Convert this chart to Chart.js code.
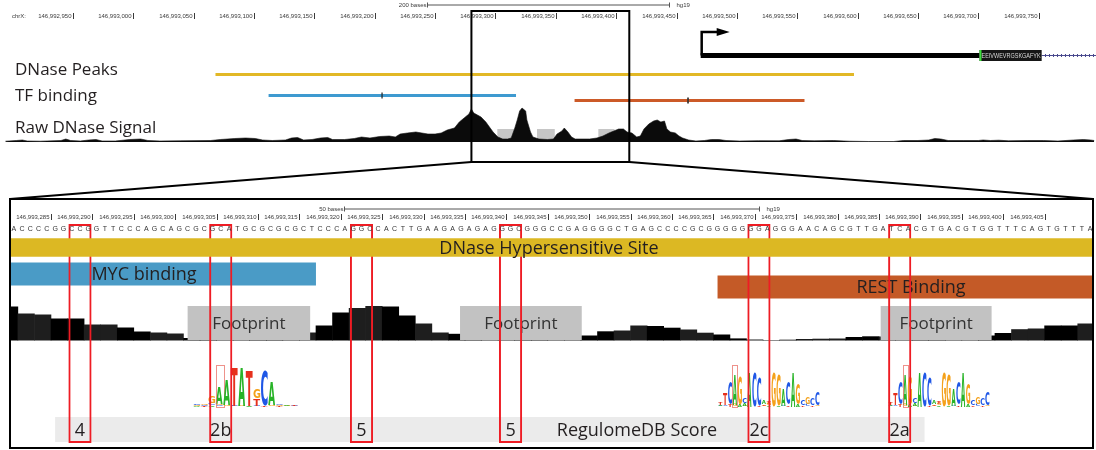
<!DOCTYPE html>
<html>
<head>
<meta charset="utf-8">
<title>DNase footprints and RegulomeDB scores, chrX</title>
<script src="https://cdn.jsdelivr.net/npm/chart.js@4.4.1/dist/chart.umd.min.js"></script>
<style>
  html, body { margin: 0; padding: 0; background: #fff; overflow: hidden; }
  canvas { display: block; }
</style>
</head>
<body>
<canvas id="browser" width="1096" height="450"></canvas>
<script>
// ---------------- data ----------------
const chromName = 'chrX:';
const assembly = 'hg19';

// ruler ticks (genomic coordinates)
const overviewTicks = [146992950, 146993000, 146993050, 146993100, 146993150, 146993200,
  146993250, 146993300, 146993350, 146993400, 146993450, 146993500, 146993550,
  146993600, 146993650, 146993700, 146993750];
const zoomTicks = [146993285, 146993290, 146993295, 146993300, 146993305, 146993310,
  146993315, 146993320, 146993325, 146993330, 146993335, 146993340, 146993345,
  146993350, 146993355, 146993360, 146993365, 146993370, 146993375, 146993380,
  146993385, 146993390, 146993395, 146993400, 146993405];

// features
const dnasePeak = [146993068, 146993597];
const mycPeak = [146993112, 146993317];
const mycSummit = 146993206;
const restPeak = [146993365.5, 146993556];
const restSummit = 146993459.5;
const footprints = [[146993301.5, 146993316.3], [146993334.4, 146993349.1], [146993385.2, 146993398.6]];

// raw DNase signal, overview
const overviewSignalPos = [
  146992894, 146992903, 146992908, 146992912, 146992923, 146992940, 146992944, 146992948,
  146992956, 146992963, 146992969, 146992974, 146992985, 146992997, 146993006, 146993012,
  146993022, 146993039, 146993064, 146993072, 146993084, 146993093, 146993101, 146993107,
  146993115, 146993126, 146993131, 146993136, 146993141, 146993148, 146993155, 146993161,
  146993165, 146993175, 146993183, 146993189, 146993196, 146993204, 146993212, 146993217,
  146993221, 146993227, 146993234, 146993239, 146993244, 146993250, 146993255, 146993260,
  146993266, 146993270, 146993274, 146993278, 146993280, 146993282, 146993285, 146993288,
  146993292, 146993295, 146993298, 146993302, 146993306, 146993310, 146993313, 146993316,
  146993318, 146993320, 146993322, 146993325, 146993326, 146993329, 146993331, 146993336,
  146993343, 146993348, 146993351, 146993355, 146993357, 146993360, 146993363, 146993366,
  146993378, 146993384, 146993389, 146993394, 146993398, 146993402, 146993406, 146993409,
  146993413, 146993417, 146993420, 146993423, 146993427, 146993431, 146993434, 146993437,
  146993440, 146993442, 146993445, 146993449, 146993452, 146993455, 146993460, 146993466,
  146993473, 146993479, 146993485, 146993491, 146993502, 146993518, 146993535, 146993543,
  146993549, 146993554, 146993564, 146993580, 146993593, 146993609, 146993630, 146993638,
  146993650, 146993659, 146993664, 146993669, 146993675, 146993688, 146993700, 146993704,
  146993710, 146993717, 146993725, 146993741, 146993754, 146993766, 146993779, 146993787,
  146993793, 146993796];
const overviewSignalVal = [
  0.8, 1.5, 2, 1, 0.8, 1.5, 3, 1.5,
  1, 2, 2.5, 1, 1, 2.5, 3, 1.5,
  1, 1.2, 1.5, 2.5, 3.5, 4, 3.5, 2,
  1.5, 2, 4, 4.5, 2, 2.5, 4, 4.5,
  2.5, 2.5, 3.5, 5, 4, 5.5, 6, 5,
  8, 9, 10, 9, 8, 8, 9, 12,
  14, 20, 24, 28, 33, 29, 27, 25,
  20, 15, 10, 5, 3, 3, 4, 14,
  22, 31, 34, 31, 22, 10, 5, 3,
  2.5, 3, 8, 11, 14, 10, 5, 3,
  3, 4, 6, 9, 11, 13, 13, 10,
  9, 5, 6, 13, 18, 21, 22, 20,
  21, 13, 10, 9, 6, 4, 2, 1,
  1.5, 2.5, 2.5, 1.5, 1, 1.3, 1.2, 2.5,
  3, 1.5, 1.2, 1.5, 0.8, 0.5, 0.5, 1.5,
  1.5, 2, 3.5, 3, 1.5, 1.5, 1.5, 2,
  1.5, 1.8, 1.2, 1.5, 1.5, 1, 2, 2.5,
  2, 1.5];

// raw DNase signal, zoomed window (2-bp bins)
const zoomSignalStart = 146993277;
const zoomSignalBin = 2;
const zoomSignalVal = [
  34, 34, 27, 26, 22, 22, 16, 16, 13, 9,
  8, 7, 2.5, 3, 3, 3, 3, 3, 4, 8,
  15, 28, 32.5, 34.5, 34, 25, 17, 8, 6.7, 4,
  3, 3, 3, 3, 3, 4, 5, 9.2, 10, 15,
  14.5, 12.8, 11, 7.8, 6, 2.1, 1, 0.5, 0.8, 1.4,
  1.8, 2, 3.5, 4.2, 4, 4, 4, 4, 4, 4,
  5, 7.5, 11.3, 12, 15, 15, 17, 17];

// reference sequence of the zoomed window
const zoomSequenceStart = 146993281;
const zoomSequence =
  'ACCCCGGCCGGTTCCCAGCAGCGCGCATGCGCGCGCTCCCAGGC' +
  'CACTTGAAGAGAGAGGGCGGGCCGAGGGGCTGAGCCCCGCGGGGG' +
  'GGAGGGAACAGCGTTGATCACGTGACGTGGTTTCAGTGTTTA';

// gene model (first exon)
const geneTss = 146993470;
const geneUtrEnd = 146993701;
const geneCdsEnd = 146993752.5;
const geneIntronEnd = 146993900;
const geneAminoAcids = 'EEIVWEVRGSKGAFYK';

// scored variants and their RegulomeDB categories
const variantSpans = [[146993288, 146993290], [146993305, 146993307], [146993322, 146993324],
  [146993340, 146993342], [146993370, 146993372], [146993387, 146993389]];
const regulomeScores = ['4', '2b', '5', '5', '2c', '2a'];
const scoreTrack = [146993285.5, 146993390.5];

// motif logos (information content per column, bits)
const mycMotif = [
  { C: 0.06, G: 0.05, A: 0.04 }, { G: 0.07, C: 0.05, T: 0.03 }, { G: 0.35, C: 0.12, A: 0.05 },
  { A: 0.85, G: 0.08, C: 0.05 }, { A: 1.25, G: 0.08 }, { T: 1.9, C: 0.04 },
  { A: 1.9, G: 0.04 }, { T: 1.8, A: 0.05 }, { G: 0.5, T: 0.35, C: 0.05 },
  { C: 1.75, T: 0.05 }, { A: 1.15, G: 0.06 }, { C: 0.07, G: 0.05, T: 0.04 },
  { A: 0.06, G: 0.05 }, { C: 0.05, T: 0.05 }];
const restMotif = [
  { T: 0.1, C: 0.05, A: 0.05 }, { T: 0.6, C: 0.08 }, { C: 1.15, T: 0.1 },
  { A: 1.5, G: 0.1 }, { G: 1.4, A: 0.1 }, { C: 0.25, A: 0.1, G: 0.05 },
  { A: 1.7 }, { C: 1.7 }, { C: 1.4, T: 0.05 },
  { A: 0.2, T: 0.08, G: 0.05 }, { T: 0.15, G: 0.1, A: 0.05 }, { G: 1.7 },
  { G: 1.55, A: 0.05 }, { A: 0.85, C: 0.05 }, { C: 1.15, T: 0.08 },
  { A: 1.7 }, { G: 1.0, A: 0.1 }, { C: 0.25, T: 0.08 },
  { G: 0.3, C: 0.1 }, { C: 0.3, T: 0.08 }, { C: 0.65, G: 0.05 }];
const motifSites = [
  { factor: 'MYC', columns: mycMotif, start: 146993302.15, mark: 3 },
  { factor: 'REST', columns: restMotif, start: 146993365.55, mark: 3 },
  { factor: 'REST', columns: restMotif, start: 146993386.1, mark: 3 }];

// ---------------- layout & style ----------------
const L = {
  W: 1096, H: 450,
  top: { anchor: 146993300, anchorPx: 495.5, pxPerBase: 1.207 },
  zoom: { anchor: 146993285, anchorPx: 51, pxPerBase: 8.28 },
  scaleBarTopY: 5, rulerTopY: 16,
  geneY: 55.5, geneUtrH: 5, geneCdsH: 11, arrowY: 32,
  peakRowY: 74.5, mycRowY: 95.5, restRowY: 100.5, featureH: 3, summitH: 6,
  topFootprintY: 135.5, topFootprintH: 13,
  topSignalBase: 142,
  boxTop: 11, boxBottom: 162,
  frame: { left: 10, right: 1093, top: 199, bottom: 448 },
  zoomScaleBarY: 209, zoomRulerY: 217, seqY: 229.5,
  dhsY: 247.5, dhsH: 18.5,
  mycBarY: 274, restBarY: 287, tfBarH: 23,
  footprintY: 323, footprintH: 34,
  zoomSignalBase: 340.5,
  logoBase: 406.5, pxPerBit: 20, logoStep: { MYC: 0.906, REST: 0.585 }, markBits: 2.1,
  scoreY: 429.5, scoreH: 25,
  variantTop: 224, variantBottom: 443,
  labelX: { dhs: 549, myc: 144, rest: 911, regulome: 637 },
  trackLabelX: 15, trackLabelY: { peaks: 75, tf: 101, raw: 133 }
};
const C = {
  ink: '#231f20', ruler: '#3a3a3a',
  yellow: '#e2b826', dhs: '#dcb823', blue: '#3e9ad0', myc: '#4a9bc6',
  orange: '#cc5a28', rest: '#c45a27', footprint: '#c2c2c2', topFootprint: '#c6c6c6',
  red: '#ee1c24', band: '#ebebeb', intron: '#4a4a8e',
  logo: { A: '#27b327', C: '#1f57e6', G: '#f4a11b', T: '#e6301c' }
};
const LABEL_FONT = '"Open Sans", "Noto Sans", sans-serif';
const TINY_FONT = '"Liberation Sans", Arial, sans-serif';

// ---------------- helpers ----------------
function genomeAxis(g) {
  return { type: 'linear', axis: 'x', position: 'bottom', display: false, offset: false,
    min: g.anchor - g.anchorPx / g.pxPerBase, max: g.anchor + (L.W - g.anchorPx) / g.pxPerBase };
}
function bandAxis(baselinePx, pxPerUnit) {
  return { type: 'linear', axis: 'y', position: 'left', display: false, offset: false,
    min: (baselinePx - L.H) / pxPerUnit, max: baselinePx / pxPerUnit };
}
const zoomClip = { left: -L.frame.left, top: 0, right: -(L.W - L.frame.right), bottom: 0 };

function spanBars(label, spans, axis, row, thickness, color, order, extra) {
  return Object.assign({
    type: 'bar', label, indexAxis: 'y', xAxisID: axis, yAxisID: 'yRows',
    data: spans.map(s => ({ x: [s[0], s[1]], y: row })),
    backgroundColor: color, borderWidth: 0, barThickness: thickness,
    grouped: false, order, inflateAmount: 0
  }, extra || {});
}

function drawText(ctx, str, x, y, font, color, align, baseline) {
  ctx.save();
  ctx.font = font;
  ctx.fillStyle = color;
  ctx.textAlign = align || 'left';
  ctx.textBaseline = baseline || 'alphabetic';
  ctx.fillText(str, x, y);
  ctx.restore();
}

function drawRuler(ctx, scale, ticks, y) {
  ctx.save();
  ctx.font = '6px ' + TINY_FONT;
  ctx.fillStyle = C.ruler;
  ctx.strokeStyle = C.ruler;
  ctx.lineWidth = 1;
  ctx.textAlign = 'right';
  ctx.textBaseline = 'middle';
  for (const t of ticks) {
    const x = Math.round(scale.getPixelForValue(t)) + 0.5;
    ctx.fillText(t.toLocaleString('en-US'), x - 2, y);
    ctx.beginPath();
    ctx.moveTo(x, y - 3);
    ctx.lineTo(x, y + 3);
    ctx.stroke();
  }
  ctx.restore();
}

function drawScaleBar(ctx, scale, bases, centerX, y) {
  const len = scale.getPixelForValue(scale.min + bases) - scale.getPixelForValue(scale.min);
  const x0 = Math.round(centerX - len / 2) + 0.5, x1 = Math.round(centerX + len / 2) + 0.5;
  ctx.save();
  ctx.strokeStyle = '#555';
  ctx.lineWidth = 1;
  ctx.beginPath();
  ctx.moveTo(x0, y); ctx.lineTo(x1, y);
  ctx.moveTo(x0, y - 2.5); ctx.lineTo(x0, y + 2.5);
  ctx.moveTo(x1, y - 2.5); ctx.lineTo(x1, y + 2.5);
  ctx.stroke();
  ctx.restore();
  drawText(ctx, bases + ' bases', x0 - 1, y, '6px ' + TINY_FONT, C.ruler, 'right', 'middle');
  drawText(ctx, assembly, x1 + 7, y, '6px ' + TINY_FONT, C.ruler, 'left', 'middle');
}

function drawLogoLetter(ctx, ch, x, w, yBottom, h) {
  if (h < 0.4) return;
  ctx.save();
  ctx.font = 'bold 60px "DejaVu Sans"';
  const m = ctx.measureText(ch);
  const gw = m.actualBoundingBoxLeft + m.actualBoundingBoxRight;
  const gh = m.actualBoundingBoxAscent + m.actualBoundingBoxDescent;
  ctx.translate(x, yBottom - h);
  ctx.scale(w / gw, h / gh);
  ctx.fillStyle = C.logo[ch];
  ctx.textAlign = 'left';
  ctx.textBaseline = 'alphabetic';
  ctx.fillText(ch, m.actualBoundingBoxLeft, m.actualBoundingBoxAscent);
  ctx.restore();
}

function drawLogos(chart) {
  const ctx = chart.ctx, xs = chart.scales.xBot, ys = chart.scales.yLogo;
  const base = ys.getPixelForValue(0);
  for (const site of motifSites) {
    const step = L.logoStep[site.factor];
    site.columns.forEach((col, i) => {
      const x0 = xs.getPixelForValue(site.start + i * step);
      const x1 = xs.getPixelForValue(site.start + (i + 1) * step);
      const letters = Object.keys(col).sort((a, b) => col[a] - col[b]);
      let y = base;
      for (const ch of letters) {
        const h = base - ys.getPixelForValue(col[ch]);
        drawLogoLetter(ctx, ch, x0 + 0.3, x1 - x0 - 0.6, y, h);
        y -= h;
      }
      if (i === site.mark) {
        ctx.save();
        ctx.strokeStyle = 'rgba(232,110,100,0.75)';
        ctx.lineWidth = 1;
        const top = ys.getPixelForValue(L.markBits);
        ctx.strokeRect(Math.round(x0) + 0.5, Math.round(top) + 0.5, Math.round(x1 - x0), Math.round(base - top));
        ctx.restore();
      }
    });
  }
}

// labels drawn right after their own dataset
const decorators = {
  'Zoom footprints': chart => {
    const xs = chart.scales.xBot;
    for (const f of footprints) {
      const cx = (xs.getPixelForValue(f[0]) + xs.getPixelForValue(f[1])) / 2;
      drawText(chart.ctx, 'Footprint', cx, L.footprintY + 1, '17px ' + LABEL_FONT, '#333', 'center', 'middle');
    }
  },
  'MYC binding': chart => drawText(chart.ctx, 'MYC binding', L.labelX.myc, L.mycBarY + 1, '18px ' + LABEL_FONT, C.ink, 'center', 'middle'),
  'REST Binding': chart => drawText(chart.ctx, 'REST Binding', L.labelX.rest, L.restBarY + 1, '18px ' + LABEL_FONT, C.ink, 'center', 'middle'),
  'RegulomeDB Score': chart => {
    const ctx = chart.ctx, xs = chart.scales.xBot;
    drawLogos(chart);
    variantSpans.forEach((s, i) => {
      const cx = (xs.getPixelForValue(s[0] - 1) + xs.getPixelForValue(s[1])) / 2;
      drawText(ctx, regulomeScores[i], cx, L.scoreY + 1, '18px ' + LABEL_FONT, C.ink, 'center', 'middle');
    });
    drawText(ctx, 'RegulomeDB Score', L.labelX.regulome, L.scoreY + 1, '18px ' + LABEL_FONT, C.ink, 'center', 'middle');
  },
  'DNase Hypersensitive Site': chart => drawText(chart.ctx, 'DNase Hypersensitive Site', L.labelX.dhs, L.dhsY + 1, '18px ' + LABEL_FONT, C.ink, 'center', 'middle')
};

const browserPlugin = {
  id: 'browserTracks',
  afterDatasetDraw(chart, args) {
    const ds = chart.data.datasets[args.index];
    if (decorators[ds.label]) decorators[ds.label](chart);
  },
  afterDatasetsDraw(chart) {
    const ctx = chart.ctx;
    const xt = chart.scales.xTop, xb = chart.scales.xBot;

    // overview ruler
    drawScaleBar(ctx, xt, 200, L.W / 2, L.scaleBarTopY);
    drawRuler(ctx, xt, overviewTicks, L.rulerTopY);
    drawText(ctx, chromName, 12, L.rulerTopY, '6px ' + TINY_FONT, C.ruler, 'left', 'middle');

    // gene: TSS arrow, coding start, amino acids, intron chevrons
    const tss = xt.getPixelForValue(geneTss);
    ctx.save();
    ctx.strokeStyle = '#000';
    ctx.fillStyle = '#000';
    ctx.lineWidth = 2.5;
    ctx.beginPath();
    ctx.moveTo(tss + 1, L.geneY);
    ctx.lineTo(tss + 1, L.arrowY);
    ctx.lineTo(tss + 17, L.arrowY);
    ctx.stroke();
    ctx.beginPath();
    ctx.moveTo(tss + 16, L.arrowY - 4);
    ctx.lineTo(tss + 29, L.arrowY);
    ctx.lineTo(tss + 16, L.arrowY + 4);
    ctx.closePath();
    ctx.fill();
    const c0 = xt.getPixelForValue(geneUtrEnd), c1 = xt.getPixelForValue(geneCdsEnd);
    ctx.fillStyle = '#3ee03e';
    ctx.fillRect(c0, L.geneY - L.geneCdsH / 2, 2, L.geneCdsH);
    ctx.font = '8px ' + TINY_FONT;
    ctx.fillStyle = '#d8d8d8';
    ctx.textBaseline = 'middle';
    ctx.textAlign = 'left';
    ctx.fillText(geneAminoAcids, c0 + 2, L.geneY + 0.5, c1 - c0 - 3);
    ctx.strokeStyle = C.intron;
    ctx.lineWidth = 1;
    ctx.beginPath();
    for (let x = c1 + 3; x < L.W; x += 4) {
      ctx.moveTo(Math.round(x) + 0.5, L.geneY - 1.5);
      ctx.lineTo(Math.round(x) + 0.5, L.geneY + 1.5);
    }
    ctx.stroke();
    ctx.restore();

    // track names
    const nameFont = '17px ' + LABEL_FONT;
    drawText(ctx, 'DNase Peaks', L.trackLabelX, L.trackLabelY.peaks, nameFont, C.ink);
    drawText(ctx, 'TF binding', L.trackLabelX, L.trackLabelY.tf, nameFont, C.ink);
    drawText(ctx, 'Raw DNase Signal', L.trackLabelX, L.trackLabelY.raw, nameFont, C.ink);

    // zoom window outline and connectors
    const vL = xb.getValueForPixel(L.frame.left), vR = xb.getValueForPixel(L.frame.right);
    const bl = xt.getPixelForValue(vL), br = xt.getPixelForValue(vR);
    ctx.save();
    ctx.strokeStyle = '#000';
    ctx.lineWidth = 2;
    ctx.strokeRect(bl, L.boxTop, br - bl, L.boxBottom - L.boxTop);
    ctx.beginPath();
    ctx.moveTo(bl, L.boxBottom); ctx.lineTo(L.frame.left, L.frame.top);
    ctx.moveTo(br, L.boxBottom); ctx.lineTo(L.frame.right, L.frame.top);
    ctx.stroke();
    ctx.strokeRect(L.frame.left, L.frame.top, L.frame.right - L.frame.left, L.frame.bottom - L.frame.top);
    ctx.restore();

    // zoom ruler and sequence
    drawScaleBar(ctx, xb, 50, (L.frame.left + L.frame.right) / 2, L.zoomScaleBarY);
    drawRuler(ctx, xb, zoomTicks, L.zoomRulerY);
    ctx.save();
    ctx.font = '7px ' + TINY_FONT;
    ctx.fillStyle = '#333';
    ctx.textAlign = 'center';
    ctx.textBaseline = 'middle';
    for (let i = 0; i < zoomSequence.length; i++) {
      const x = xb.getPixelForValue(zoomSequenceStart + i - 0.5);
      if (x > L.frame.left && x < L.W) ctx.fillText(zoomSequence[i], x, L.seqY);
    }
    ctx.restore();
  }
};

// ---------------- chart ----------------
function build() {
  const datasets = [
    // overview
    spanBars('Overview footprints', footprints, 'xTop', L.topFootprintY, L.topFootprintH, C.topFootprint, 95),
    {
      type: 'line', label: 'Raw DNase signal', xAxisID: 'xTop', yAxisID: 'ySigTop',
      data: overviewSignalPos.map((p, i) => ({ x: p, y: overviewSignalVal[i] })),
      borderColor: '#111', borderWidth: 0.6, backgroundColor: '#0b0b0b',
      fill: 'origin', pointRadius: 0, tension: 0, order: 90
    },
    spanBars('DNase peaks', [dnasePeak], 'xTop', L.peakRowY, L.featureH, C.yellow, 85),
    spanBars('MYC peak', [mycPeak], 'xTop', L.mycRowY, L.featureH, C.blue, 85),
    spanBars('REST peak', [restPeak], 'xTop', L.restRowY, L.featureH, C.orange, 85),
    spanBars('Summits', [[mycSummit - 0.5, mycSummit + 0.5]], 'xTop', L.mycRowY, L.summitH, '#222', 84),
    spanBars('Summits REST', [[restSummit - 0.7, restSummit + 0.7]], 'xTop', L.restRowY, L.summitH, '#333', 84),
    spanBars('Gene UTR', [[geneTss, geneUtrEnd]], 'xTop', L.geneY, L.geneUtrH, '#000', 85),
    spanBars('Gene CDS', [[geneUtrEnd, geneCdsEnd]], 'xTop', L.geneY, L.geneCdsH, '#161616', 85),
    spanBars('Gene intron', [[geneCdsEnd, geneIntronEnd]], 'xTop', L.geneY, 1, C.intron, 86),

    // zoomed window
    {
      type: 'bar', label: 'Zoom signal', xAxisID: 'xBot', yAxisID: 'ySigBot',
      data: zoomSignalVal.map((v, i) => ({ x: zoomSignalStart + (i + 0.5) * zoomSignalBin, y: v })),
      backgroundColor: zoomSignalVal.map((v, i) => (Math.floor(i / 2) % 2 ? '#1e1e1e' : '#000')),
      borderWidth: 0, barThickness: zoomSignalBin * L.zoom.pxPerBase + 0.6,
      grouped: false, inflateAmount: 0, order: 60, clip: zoomClip
    },
    spanBars('Zoom footprints', footprints, 'xBot', L.footprintY, L.footprintH, C.footprint, 50, { clip: zoomClip }),
    spanBars('MYC binding', [mycPeak], 'xBot', L.mycBarY, L.tfBarH, C.myc, 42, { clip: zoomClip }),
    spanBars('REST Binding', [restPeak], 'xBot', L.restBarY, L.tfBarH, C.rest, 40, { clip: zoomClip }),
    spanBars('RegulomeDB Score', [scoreTrack], 'xBot', L.scoreY, L.scoreH, C.band, 30, { clip: zoomClip }),
    spanBars('Variants', variantSpans.map(s => [s[0] - 0.9, s[1] - 0.1]), 'xBot',
      (L.variantTop + L.variantBottom) / 2, L.variantBottom - L.variantTop, 'rgba(0,0,0,0)', 20,
      { borderColor: C.red, borderWidth: 2, borderSkipped: false, clip: zoomClip }),
    spanBars('DNase Hypersensitive Site', [dnasePeak], 'xBot', L.dhsY, L.dhsH, C.dhs, 10, { clip: zoomClip })
  ];

  new Chart(document.getElementById('browser'), {
    type: 'bar',
    data: { datasets },
    options: {
      responsive: false,
      animation: false,
      devicePixelRatio: 1,
      events: [],
      layout: { padding: 0 },
      plugins: { legend: { display: false }, tooltip: { enabled: false }, title: { display: false } },
      scales: {
        xTop: genomeAxis(L.top),
        xBot: genomeAxis(L.zoom),
        yRows: { type: 'linear', axis: 'y', position: 'left', display: false, offset: false,
          min: 0, max: L.H, reverse: true },
        ySigTop: bandAxis(L.topSignalBase, 1),
        ySigBot: bandAxis(L.zoomSignalBase, 1),
        yLogo: bandAxis(L.logoBase, L.pxPerBit)
      }
    },
    plugins: [browserPlugin]
  });
}

const fontLoads = document.fonts
  ? Promise.all(['17px "Open Sans"', '6px "Liberation Sans"', 'bold 60px "DejaVu Sans"']
      .map(f => document.fonts.load(f))).catch(() => null)
  : Promise.resolve();
fontLoads.then(build);
</script>
</body>
</html>
